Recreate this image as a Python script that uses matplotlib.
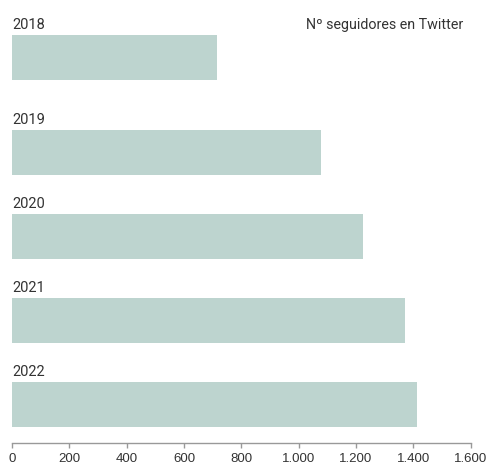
import matplotlib.pyplot as plt
from matplotlib.ticker import FuncFormatter

years = ['2018', '2019', '2020', '2021', '2022']
followers = [715, 1078, 1225, 1371, 1412]
x_ticks = [0, 200, 400, 600, 800, 1000, 1200, 1400, 1600]

BAR_COLOR = '#bdd4cf'
TEXT_COLOR = '#333333'
AXIS_COLOR = '#999999'

W, H, DPI = 491, 467, 100
fig = plt.figure(figsize=(W / DPI, H / DPI), dpi=DPI)

# axes spans from the top of the figure down to the x axis line
left, right = 12 / W, 470.5 / W
bottom = (H - 443) / H
ax = fig.add_axes([left, bottom, right - left, 1 - bottom])

# one slot per year, the first one pushed a bit higher
slot_px = 84
pos = [len(years) - 1 - i for i in range(len(years))]
pos[0] += 11 / slot_px
bar_h = 45 / slot_px

ax.barh(pos, followers, height=bar_h, color=BAR_COLOR, left=0)

y0 = -38.5 / slot_px
ax.set_ylim(y0, y0 + 443 / slot_px)
ax.set_xlim(0, 1600)

for yr, p in zip(years, pos):
    ax.annotate(yr, xy=(0, p + bar_h / 2), xytext=(0, 4.3),
                textcoords='offset points', ha='left', va='baseline',
                fontsize=10.5, color=TEXT_COLOR, family=['Roboto', 'DejaVu Sans'])

fig.text(463 / W, (H - 29) / H, 'Nº seguidores en Twitter', ha='right',
         va='baseline', fontsize=10.3, color=TEXT_COLOR,
         family=['Roboto', 'DejaVu Sans'])

for s in ['top', 'right', 'left']:
    ax.spines[s].set_visible(False)
ax.spines['bottom'].set_color(AXIS_COLOR)
ax.spines['bottom'].set_linewidth(1)

ax.set_yticks([])
ax.set_xticks(x_ticks)
ax.xaxis.set_major_formatter(FuncFormatter(lambda v, _: f'{v:,.0f}'.replace(',', '.')))
ax.tick_params(axis='x', length=3.5, width=1, color=AXIS_COLOR, pad=4,
               labelsize=9.5, labelcolor=TEXT_COLOR)
for lbl in ax.get_xticklabels():
    lbl.set_family('Liberation Sans')

fig.savefig('out.png', dpi=DPI)
